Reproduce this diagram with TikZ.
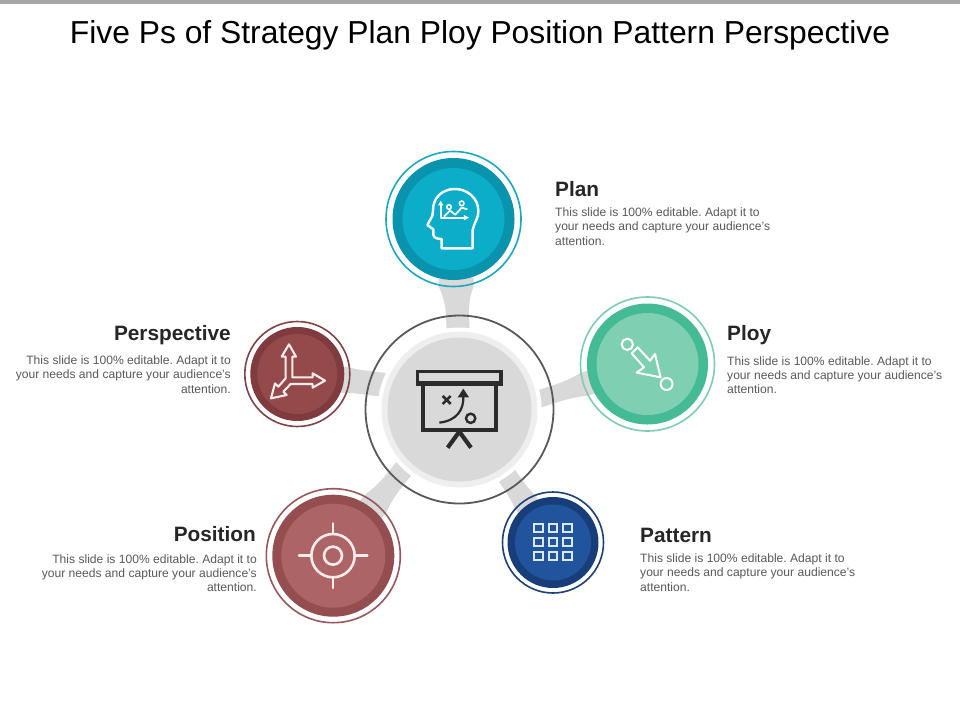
\documentclass[tikz,border=0pt]{standalone}
\usepackage{fontspec}
\setmainfont{Liberation Sans}
\usetikzlibrary{calc}
\definecolor{stubgrey}{HTML}{D9D9D9}
\definecolor{bodygrey}{HTML}{595959}
\definecolor{headdark}{HTML}{262626}
\definecolor{iconblack}{HTML}{2B2B2B}
\definecolor{planA}{HTML}{0BADC9}\definecolor{planB}{HTML}{0A93AC}\definecolor{planC}{HTML}{1BA8BF}
\definecolor{ployA}{HTML}{7FD0B3}\definecolor{ployB}{HTML}{44BB94}\definecolor{ployC}{HTML}{7ECDB2}
\definecolor{patA}{HTML}{20559E}\definecolor{patB}{HTML}{173E78}\definecolor{patC}{HTML}{1C4175}
\definecolor{posA}{HTML}{AD6466}\definecolor{posB}{HTML}{954E50}\definecolor{posC}{HTML}{96585C}
\definecolor{perA}{HTML}{944A4B}\definecolor{perB}{HTML}{7F3B3D}\definecolor{perC}{HTML}{7F4447}
\definecolor{patIcon}{HTML}{DCE9F5}
\definecolor{warmIcon}{HTML}{F8ECEA}
\tikzset{
  disc/.style={circle,inner sep=0pt,outer sep=0pt,minimum size=#1*2pt},
  head/.style={anchor=west,inner sep=0pt,font=\fontsize{20.8}{24}\selectfont\bfseries,text=headdark},
  headr/.style={head,anchor=east},
  copytext/.style={anchor=west,inner sep=0pt,align=left,text=bodygrey,font=\fontsize{12.1}{14.3}\selectfont},
  copyr/.style={copytext,anchor=east,align=right},
  iconline/.style={line width=2.4pt,line join=round,line cap=round},
}
% start coordinate, satellite, half width at start, satellite radius, half width at ring
\newcommand{\stub}[5]{%
  \fill[stubgrey]
    ($(#1)!-8pt!(#2)!#3pt!90:(#2)$) --
    ($(#2)!#4pt+30pt!(#1)!#3pt!-90:(#1)$) .. controls
    ($(#2)!#4pt+14pt!(#1)!#3pt!-90:(#1)$) and
    ($(#2)!#4pt+5pt!(#1)!#5pt*0.9!-90:(#1)$) ..
    ($(#2)!#4pt!(#1)!#5pt!-90:(#1)$) --
    ($(#2)!#4pt-8pt!(#1)!#5pt!-90:(#1)$) --
    ($(#2)!#4pt-8pt!(#1)!#5pt!90:(#1)$) --
    ($(#2)!#4pt!(#1)!#5pt!90:(#1)$) .. controls
    ($(#2)!#4pt+5pt!(#1)!#5pt*0.9!90:(#1)$) and
    ($(#2)!#4pt+14pt!(#1)!#3pt!90:(#1)$) ..
    ($(#2)!#4pt+30pt!(#1)!#3pt!90:(#1)$) --
    ($(#1)!-8pt!(#2)!#3pt!-90:(#2)$) -- cycle;}
\newcommand{\satellite}[7]{% name, x, y, outer, dark, inner, colour prefix
  \node[disc=#4,draw=#7C,line width=1.6pt] (#1) at (#2,#3) {};
  \node[disc=#5,fill=#7B] (#1Dark) at (#2,#3) {};
  \node[disc=#6,fill=#7A] (#1Inner) at (#2,#3) {};}
\begin{document}
\frenchspacing
\begin{tikzpicture}[x=1pt,y=-1pt]
\useasboundingbox (0,0) rectangle (960,720);
\fill[white] (0,0) rectangle (960,720);
\fill[black!35] (0,0) rectangle (960,4);
\node[inner sep=0pt,font=\fontsize{31.8}{36}\selectfont,text=black] (title) at (480,35.5) {Five Ps of Strategy Plan Ploy Position Pattern Perspective};

\coordinate (planC0) at (453.5,219);
\coordinate (ployC0) at (647.5,364);
\coordinate (patC0) at (553,542.5);
\coordinate (posC0) at (333.3,555.7);
\coordinate (perC0) at (297.3,374);
\coordinate (s1) at (458,327);
\coordinate (s2) at (542,398);
\coordinate (s3) at (505.5,473.5);
\coordinate (s4) at (406.5,465.5);
\coordinate (s5) at (385,385);
\stub{s1}{planC0}{11.5}{67}{17.5}
\stub{s2}{ployC0}{8.7}{67}{12}
\stub{s3}{patC0}{10}{50}{12}
\stub{s4}{posC0}{10}{67}{14}
\stub{s5}{perC0}{12}{52}{13}

% centre
\node[disc=82,fill=white] (mainWhite) at (459.5,409.5) {};
\node[disc=94,draw=bodygrey,line width=1.8pt] (main) at (459.5,409.5) {};
\node[disc=78,fill=black!6.5] (mainRing) at (459.5,409.5) {};
\node[disc=72,fill=stubgrey] (mainInner) at (459.5,409.5) {};

\satellite{plan}{453.5}{219}{67.5}{61}{51}{plan}
\satellite{ploy}{647.5}{364}{67}{60.5}{51}{ploy}
\satellite{pattern}{553}{542.5}{50.5}{45.5}{38}{pat}
\satellite{position}{333.3}{555.7}{67}{61}{52}{pos}
\satellite{perspective}{297.3}{374}{52.5}{47}{40}{per}

% centre icon
\begin{scope}[shift={(350,310)},x=0.3333pt,y=-0.3333pt,iconblack]
  \draw[line width=3.2pt] (203,185) rectangle (453,222);
  \fill (203,214) rectangle (453,226);
  \draw[line width=4pt] (220,222) -- (220,360) -- (437,360) -- (437,222);
  \draw[line width=4.2pt] (293,413) -- (328,365) -- (363,413);
  \draw[line width=2.6pt] (278,258) -- (302,282) (302,258) -- (278,282);
  \draw[line width=2.2pt] (268,338) .. controls (320,332) and (342,300) .. (340,258);
  \fill (323,262) -- (340,236) -- (357,262) -- cycle;
  \draw[line width=2.4pt] (362,325) circle (14);
\end{scope}

% plan icon
\begin{scope}[shift={(370,140)},x=0.3333pt,y=-0.3333pt,white]
  \draw[iconline] (308,325) -- (308,270) .. controls (312,248) and (325,238) .. (325,212)
    .. controls (325,175) and (292,147) .. (255,147) .. controls (215,147) and (188,175) .. (189,212)
    -- (187,228) -- (172,255) -- (190,268) -- (190,285) .. controls (192,295) and (205,297) .. (215,297) -- (215,325) -- cycle;
  \draw[line width=1.8pt,line join=round] (212,190) -- (212,233) -- (290,233);
  \fill (204,196) -- (212,182) -- (220,196) -- cycle;
  \fill (282,225) -- (297,233) -- (282,241) -- cycle;
  \draw[line width=1.8pt,line join=round] (222,230) -- (240,212) -- (256,224) -- (275,203) -- (292,208);
  \draw[line width=1.5pt] (237,201) circle (7) (275,190) circle (7);
\end{scope}

% ploy icon
\begin{scope}[shift={(570,290)},x=0.3333pt,y=-0.3333pt,white]
  \draw[line width=2pt] (172,163) circle (17) (290,282) circle (18);
  \draw[line width=2pt,line join=round] (203,172) -- (240,212) -- (255,192) -- (272,262) -- (200,248) -- (222,232) -- (185,190) -- cycle;
\end{scope}

% pattern icon
\begin{scope}[shift={(490,470)},x=0.3333pt,y=-0.3333pt,draw=patIcon]
  \foreach \cx in {145,189,232}
    \foreach \cy in {175,217,259}
      \draw[line width=2pt] (\cx-12.5,\cy-12) rectangle (\cx+12.5,\cy+12);
\end{scope}

% position icon
\begin{scope}[shift={(260,460)},x=0.3333pt,y=-0.3333pt,draw=warmIcon]
  \draw[line width=2.6pt] (219,287) circle (65) (219,287) circle (27);
  \draw[line width=2.6pt,line cap=round] (219,190) -- (219,222) (219,352) -- (219,384)
    (117,287) -- (154,287) (284,287) -- (322,287);
\end{scope}

% perspective icon
\begin{scope}[shift={(240,315)},x=0.3333pt,y=-0.3333pt,draw=warmIcon]
  \draw[line width=2.1pt,line join=round] (137,125) -- (125,125) -- (147,88) -- (168,125) -- (157,125)
    -- (157,187) -- (218,187) -- (218,175) -- (255,197) -- (218,218) -- (218,207) -- (152,207)
    -- (130,230) -- (140,240) -- (93,250) -- (105,205) -- (115,215) -- (137,190) -- cycle;
\end{scope}

% labels
\node[head] (planT) at (555,189.5) {Plan};
\node[copytext] (planB) at (555,226.5) {This slide is 100\% editable. Adapt it to\\your needs and capture your audience's\\attention.};
\node[head] (ployT) at (727,335.5) {Ploy};
\node[copytext] (ployB) at (727,375) {This slide is 100\% editable. Adapt it to\\your needs and capture your audience's\\attention.};
\node[head] (patT) at (640,535.5) {Pattern};
\node[copytext] (patB) at (640,572.5) {This slide is 100\% editable. Adapt it to\\your needs and capture your audience's\\attention.};
\node[headr] (posT) at (256,534.5) {Position};
\node[copyr] (posB) at (257,573) {This slide is 100\% editable. Adapt it to\\your needs and capture your audience's\\attention.};
\node[headr] (perT) at (231,335.5) {Perspective};
\node[copyr] (perB) at (231,374.5) {This slide is 100\% editable. Adapt it to\\your needs and capture your audience's\\attention.};
\end{tikzpicture}
\end{document}
